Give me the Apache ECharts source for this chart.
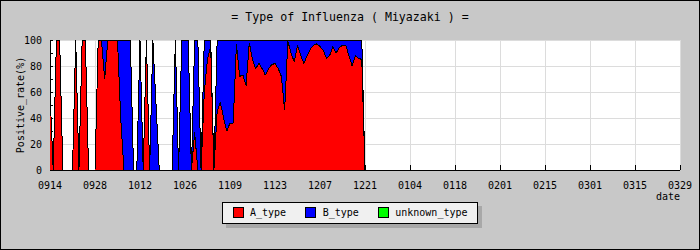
<!DOCTYPE html>
<html>
<head>
<meta charset="utf-8">
<script src="https://cdn.jsdelivr.net/npm/echarts@6/dist/echarts.min.js"></script>
<style>
html,body{margin:0;padding:0;background:#c8c8c8;}
#c{width:700px;height:250px;}
#c svg path{shape-rendering:crispEdges;}
</style>
</head>
<body>
<div id="c"></div>
<script>
// Tick labels shown every 14 days, from 0914 to 0329
const tickLabels = ['0914','0928','1012','1026','1109','1123','1207','1221','0104','0118','0201','0215','0301','0315','0329'];
const daysPerTick = 14;
// Daily positive rates (%) from 0914 to 1221
const aType = [60,0,100,100,0,0,0,0,100,0,100,100,0,0,0,100,100,70,100,100,100,100,40,0,0,0,0,0,0,0,100,0,0,0,0,0,0,0,0,0,0,0,0,0,0,29,0,0,60,85,95,0,45,52,40,30,36,36,97,72,73,65,98,85,78,82,78,73,78,81,82,78,72,46,99,90,83,96,88,82,88,93,96,97,95,92,86,88,95,90,94,96,96,88,80,88,86,85,0];
const bType = [0,0,0,0,0,0,0,0,0,0,0,0,0,0,0,0,0,30,0,0,0,0,60,100,100,100,0,0,100,0,0,0,100,50,0,0,0,0,0,100,0,100,100,100,0,71,100,0,40,15,5,0,55,48,60,70,64,64,3,28,27,35,2,15,22,18,22,27,22,19,18,22,28,54,1,10,17,4,12,18,12,7,4,3,5,8,14,12,5,10,6,4,4,12,20,12,14,15,0];
const unknownType = [0,0,0,0,0,0,0,0,0,0,0,0,0,0,0,0,0,0,0,0,0,0,0,0,0,0,0,0,0,0,0,0,0,0,0,0,0,0,0,0,0,0,0,0,0,0,0,0,0,0,0,0,0,0,0,0,0,0,0,0,0,0,0,0,0,0,0,0,0,0,0,0,0,0,0,0,0,0,0,0,0,0,0,0,0,0,0,0,0,0,0,0,0,0,0,0,0,0,0];
const seriesNames = ['A_type','B_type','unknown_type'];
const seriesColors = ['#ff0000','#0000ff','#00ff00'];

const totalDays = (tickLabels.length - 1) * daysPerTick + 1;
const dayIndex = [];
for (let i = 0; i < totalDays; i++) dayIndex.push(String(i));

const mono = 'DejaVu Sans Mono';
const chart = echarts.init(document.getElementById('c'), null, {renderer:'svg'});
const values = [aType, bType, unknownType];

chart.setOption({
  animation: false,
  backgroundColor: '#c8c8c8',
  title: {
    text: '= Type of Influenza ( Miyazaki ) =',
    left: 'center', top: 6,
    textStyle: {fontFamily: mono, fontSize: 11.6, fontWeight: 'normal', color: '#000'}
  },
  legend: {
    left: 'center', top: 202,
    icon: 'rect', itemWidth: 10, itemHeight: 10, itemGap: 19,
    padding: [5, 10, 5, 10],
    backgroundColor: '#f0f0f0', borderColor: '#000', borderWidth: 1,
    shadowColor: '#a8a8a8', shadowBlur: 0, shadowOffsetX: 4, shadowOffsetY: 4,
    textStyle: {fontFamily: mono, fontSize: 10, color: '#000', padding: [0,0,0,2]},
    data: seriesNames.map((n, i) => ({name: n, itemStyle: {color: seriesColors[i], borderColor: '#000', borderWidth: 1}}))
  },
  grid: {left: 50, right: 20, top: 40, bottom: 80, show: true, backgroundColor: '#fff', borderWidth: 0,
         containLabel: false, outerBoundsMode: 'none'},
  xAxis: {
    type: 'category', data: dayIndex, boundaryGap: false,
    axisLine: {lineStyle: {color: '#000', width: 1}},
    axisTick: {inside: true, length: 5, interval: daysPerTick - 1, lineStyle: {color: '#000'}},
    axisLabel: {
      interval: daysPerTick - 1, margin: 10, fontFamily: mono, fontSize: 10, color: '#000',
      formatter: (v, idx) => (idx % daysPerTick === 0 ? tickLabels[idx / daysPerTick] : '')
    },
    splitLine: {show: true, interval: daysPerTick - 1, lineStyle: {color: '#dcdcdc', width: 1}}
  },
  yAxis: {
    type: 'value', min: 0, max: 100, interval: 20,
    name: 'Positive_rate(%)', nameLocation: 'middle', nameGap: 25, nameRotate: 90, nameMoveOverlap: false,
    nameTextStyle: {fontFamily: mono, fontSize: 10, color: '#000'},
    axisLine: {show: true, lineStyle: {color: '#000', width: 1}},
    axisTick: {show: true, inside: true, length: 3, lineStyle: {color: '#000'}},
    minorTick: {show: true, splitNumber: 2, length: 3, lineStyle: {color: '#000'}},
    axisLabel: {margin: 8, fontFamily: mono, fontSize: 10, color: '#000'},
    splitLine: {show: true, lineStyle: {color: '#dcdcdc', width: 1}}
  },
  graphic: [
    {type: 'text', right: 20, top: 191, style: {text: 'date', font: '10px "DejaVu Sans Mono"', fill: '#000'}},
    {type: 'rect', shape: {x: 0.5, y: 0.5, width: 699, height: 249}, style: {fill: null, stroke: '#000', lineWidth: 1}, silent: true, z: 100}
  ],
  series: seriesNames.map((n, i) => ({
    name: n, type: 'line', stack: 'total', stackStrategy: 'all', data: values[i],
    symbol: 'none', showSymbol: false,
    itemStyle: {color: seriesColors[i]},
    lineStyle: {color: '#000', width: 1},
    areaStyle: {color: seriesColors[i], opacity: 1}
  }))
});
</script>
</body>
</html>
